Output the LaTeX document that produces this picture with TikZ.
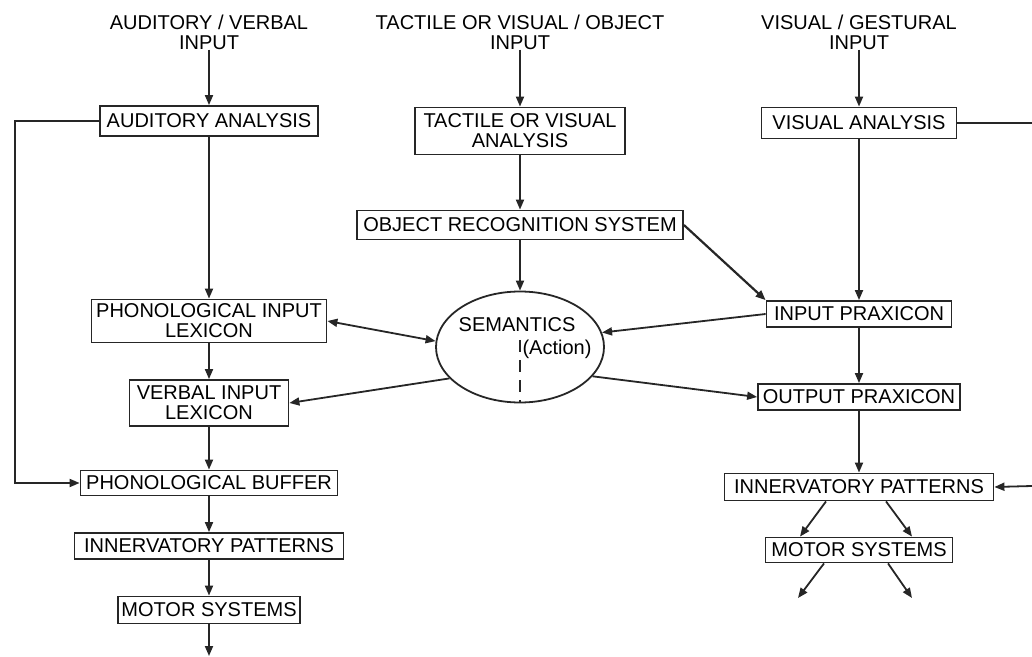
\documentclass[tikz,border=0pt]{standalone}
\usepackage{fontspec}
\setmainfont{Liberation Sans}
\usetikzlibrary{arrows.meta,shapes.geometric,calc}
\begin{document}
\begin{tikzpicture}[x=0.5pt,y=-0.5pt,
  ink/.style={draw=black!85,line width=0.9pt},
  txt/.style={inner sep=0pt,align=center,font=\fontsize{10}{10}\selectfont},
  box/.style={ink,txt,rectangle},
  arr/.style={ink,-{Triangle[length=5pt,width=4pt]}},
  arrtwo/.style={ink,{Triangle[length=5pt,width=4pt]}-{Triangle[length=5pt,width=4pt]}},
  dashline/.style={draw=black!85,line width=0.8pt,dash pattern=on 6pt off 4pt}]
\useasboundingbox (0,0) rectangle (1032,657);

% input labels
\node[txt] (inA) at (209,32) {AUDITORY / VERBAL\\INPUT};
\node[txt] (inB) at (520,32) {TACTILE OR VISUAL / OBJECT\\INPUT};
\node[txt] (inC) at (859,32) {VISUAL / GESTURAL\\INPUT};

% verbal route
\node[box,minimum width=109pt,minimum height=15pt]   (aud)  at (209,121) {AUDITORY ANALYSIS};
\node[box,minimum width=117.5pt,minimum height=21.5pt] (pil) at (209,321) {PHONOLOGICAL INPUT\\LEXICON};
\node[box,minimum width=79.5pt,minimum height=23pt]  (vil)  at (209,403) {VERBAL INPUT\\LEXICON};
\node[box,minimum width=128.5pt,minimum height=12.5pt] (pbuf) at (209,483) {PHONOLOGICAL BUFFER};
\node[box,minimum width=134.5pt,minimum height=13pt] (innL) at (209,546) {INNERVATORY PATTERNS};
\node[box,minimum width=91pt,minimum height=13.5pt]  (motL) at (209,610) {MOTOR SYSTEMS};

% object route
\node[box,minimum width=105pt,minimum height=23.5pt] (tva) at (520,131) {TACTILE OR VISUAL\\ANALYSIS};
\node[box,minimum width=163pt,minimum height=14.5pt] (ors) at (520,225) {OBJECT RECOGNITION SYSTEM};
\node[ink,ellipse,inner sep=0pt,minimum width=84pt,minimum height=55.5pt] (sem) at (520,347) {};
\node[txt] (semt) at (517,325) {SEMANTICS};
\node[txt] (act)  at (557,349) {(Action)};
\coordinate (dtop) at (520,340);

% gestural route
\node[box,minimum width=97.5pt,minimum height=15.5pt] (vis)  at (859,123) {VISUAL ANALYSIS};
\node[box,minimum width=92.5pt,minimum height=13pt]   (ipx)  at (859,314) {INPUT PRAXICON};
\node[box,minimum width=101pt,minimum height=13pt]    (opx)  at (859,397) {OUTPUT PRAXICON};
\node[box,minimum width=134.5pt,minimum height=13.5pt] (innR) at (859,487) {INNERVATORY PATTERNS};
\node[box,minimum width=93.5pt,minimum height=12.5pt] (motR) at (859,550) {MOTOR SYSTEMS};

% free ends
\coordinate (lc) at (15,121);
\coordinate (lb) at (209,656);
\coordinate (re1) at (1032,123);
\coordinate (re2) at (1032,486);
\coordinate (mo1) at (798,598);
\coordinate (mo2) at (912,598);

% vertical flow, verbal
\draw[arr] (inA.south) -- (aud.north);
\draw[arr] (aud.south) -- (pil.north);
\draw[arr] (pil.south) -- (vil.north);
\draw[arr] (vil.south) -- (pbuf.north);
\draw[arr] (pbuf.south) -- (innL.north);
\draw[arr] (innL.south) -- (motL.north);
\draw[arr] (motL.south) -- (lb);
\draw[arr] (aud.west) -- (lc) |- (pbuf.west);

% vertical flow, object
\draw[arr] (inB.south) -- (tva.north);
\draw[arr] (tva.south) -- (ors.north);
\draw[arr] (ors.south) -- (sem.north);
\draw[dashline] (dtop) -- (sem.south);

% vertical flow, gestural
\draw[arr] (inC.south) -- (vis.north);
\draw[arr] (vis.south) -- (ipx.north);
\draw[arr] (ipx.south) -- (opx.north);
\draw[arr] (opx.south) -- (innR.north);
\draw[ink] (vis.east) -- (re1);
\draw[arr] (re2) -- (innR.east);
\draw[arr] ($(innR.south)+(-33,0)$) -- ($(motR.north)+(-59,0)$);
\draw[arr] ($(innR.south)+(27,0)$) -- ($(motR.north)+(53,0)$);
\draw[arr] ($(motR.south)+(-35,0)$) -- (mo1);
\draw[arr] ($(motR.south)+(29,0)$) -- (mo2);

% links through semantics
\draw[arr,line width=1.1pt] (ors.east) -- (ipx.north west);
\draw[arr] (ipx.west) -- (sem.10);
\draw[arr] (sem.-22) -- (opx.west);
\draw[arrtwo] (pil.east) -- (sem.176);
\draw[arr] (sem.-156) -- (vil.east);
\end{tikzpicture}
\end{document}
